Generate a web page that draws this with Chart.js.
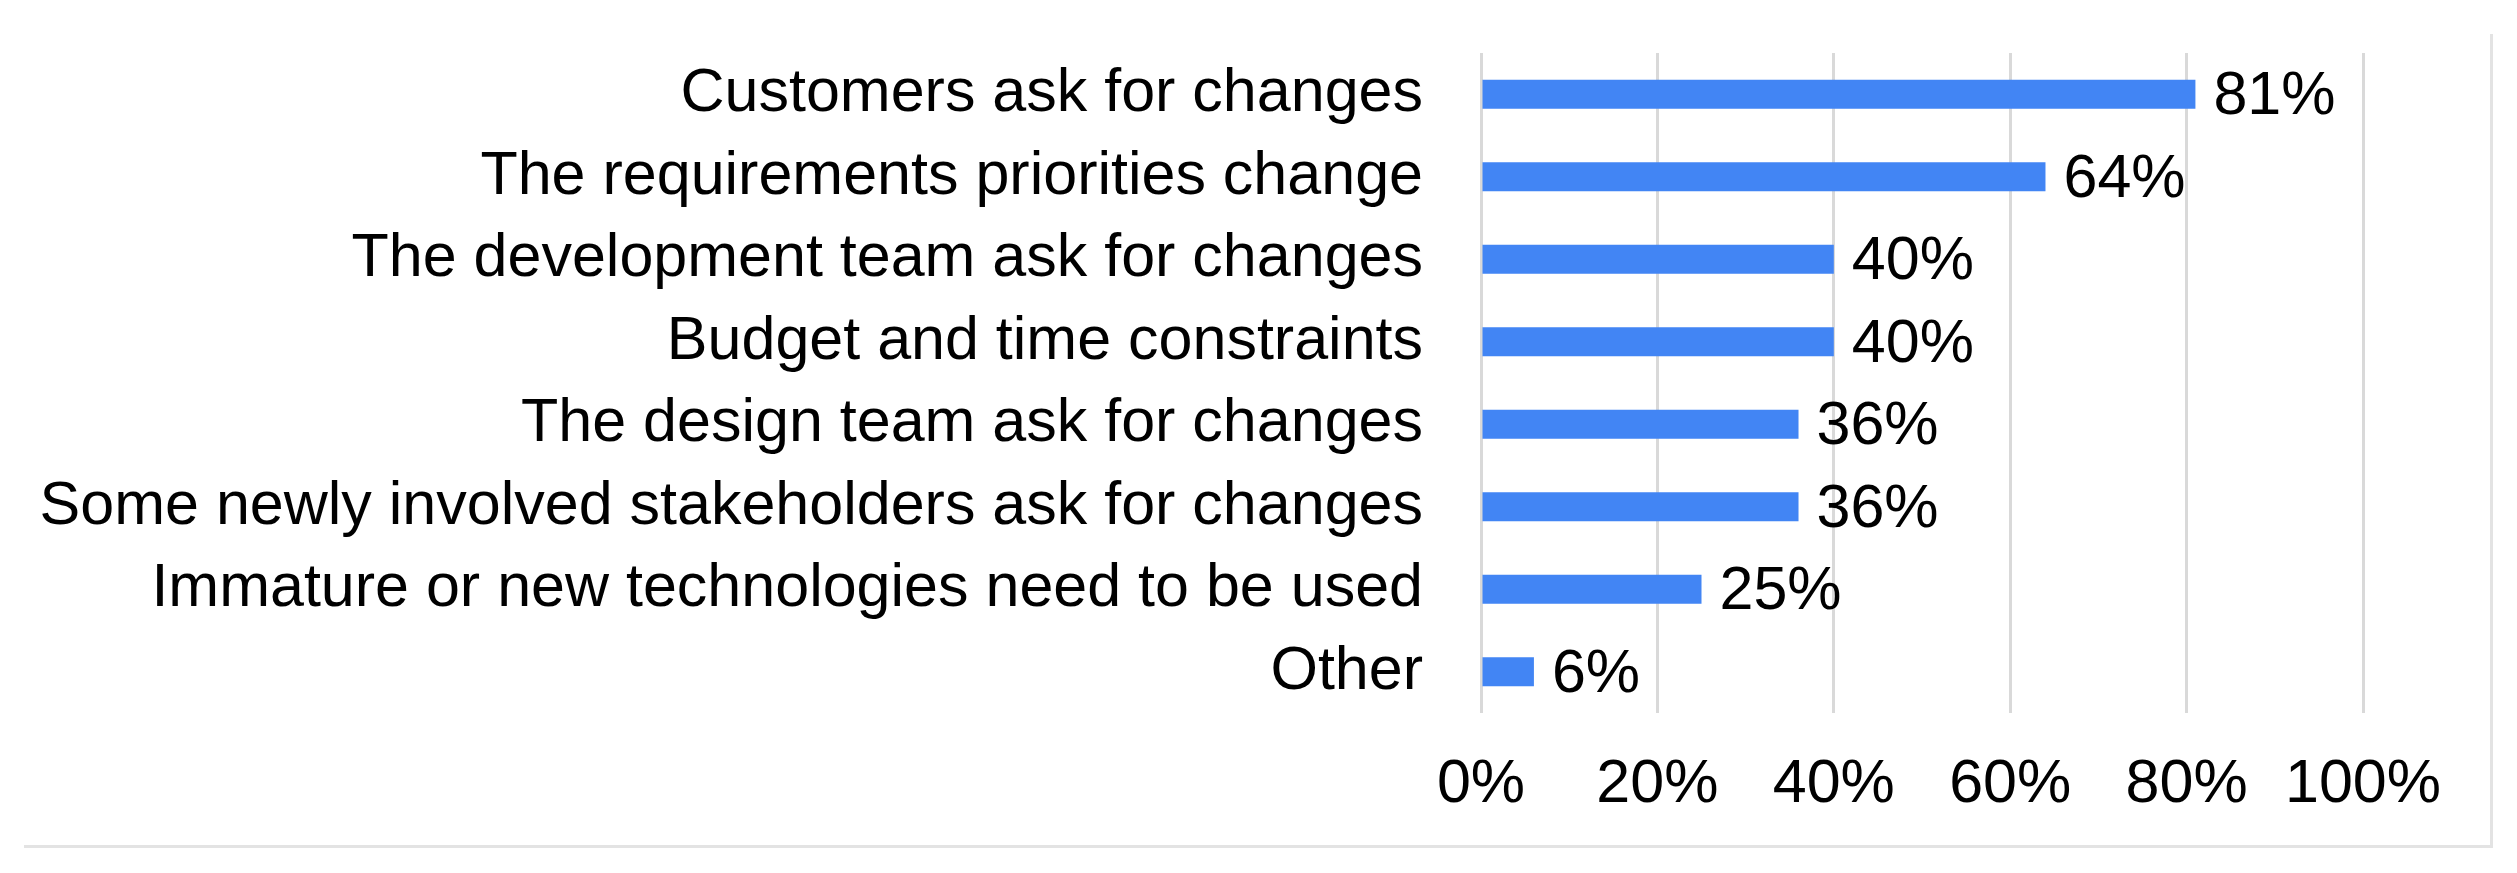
<!DOCTYPE html>
<html>
<head>
<meta charset="utf-8">
<script src="https://cdn.jsdelivr.net/npm/chart.js@4.4.1/dist/chart.umd.min.js"></script>
<style>
  body { margin: 0; background: #fff; }
  #wrap { position: relative; width: 2517px; height: 873px; }
  #frame {
    position: absolute; left: 24px; top: 34px; width: 2466px; height: 811px;
    border-right: 3px solid #e3e3e3; border-bottom: 3px solid #e3e3e3;
  }
  canvas { position: absolute; left: 0; top: 0; }
</style>
</head>
<body>
<div id="wrap">
  <div id="frame"></div>
  <canvas id="chart" width="2517" height="873"></canvas>
</div>
<script>
// Reasons for requirement changes (share of respondents, %)
const reasons = [
    'Customers ask for changes',
    'The requirements priorities change',
    'The development team ask for changes',
    'Budget and time constraints',
    'The design team ask for changes',
    'Some newly involved stakeholders ask for changes',
    'Immature or new technologies need to be used',
    'Other'
];
const shares = [81, 64, 40, 40, 36, 36, 25, 6];
const xTicks = [0, 20, 40, 60, 80, 100];

const fontFamily = '"Liberation Sans", Arial, sans-serif';

// Draws the "81%" style labels just past the end of each bar
const valueLabels = {
    id: 'valueLabels',
    afterDatasetsDraw(chart) {
        const ctx = chart.ctx;
        const meta = chart.getDatasetMeta(0);
        ctx.save();
        ctx.font = '61px ' + fontFamily;
        ctx.fillStyle = '#000';
        ctx.textAlign = 'left';
        ctx.textBaseline = 'middle';
        meta.data.forEach((bar, i) => {
            ctx.fillText(shares[i] + '%', bar.x + 18, bar.y + 3);
        });
        ctx.restore();
    }
};

const ctx = document.getElementById('chart').getContext('2d');
const chart = new Chart(ctx, {
    type: 'bar',
    data: {
        labels: reasons,
        datasets: [{
            data: shares,
            backgroundColor: '#4285f4',
            borderWidth: 0,
            categoryPercentage: 1,
            barPercentage: 0.35
        }]
    },
    options: {
        indexAxis: 'y',
        responsive: false,
        animation: false,
        layout: { padding: { top: 53, right: 154, bottom: 0, left: 0 } },
        plugins: {
            legend: { display: false },
            tooltip: { enabled: false }
        },
        scales: {
            x: {
                min: 0,
                max: 100,
                afterBuildTicks: (scale) => { scale.ticks = xTicks.map(v => ({ value: v })); },
                afterFit: (scale) => {
                    scale.height = 160;
                    scale.paddingLeft = 0;
                    scale.paddingRight = 0;
                },
                grid: { color: '#d9d9d9', lineWidth: 3, drawTicks: false },
                border: { display: false },
                ticks: {
                    padding: 36,
                    color: '#000',
                    font: { size: 61, family: fontFamily },
                    callback: (v) => v + '%'
                }
            },
            y: {
                afterFit: (scale) => {
                    scale.width = 1481;
                    scale.paddingTop = 0;
                    scale.paddingBottom = 0;
                },
                grid: { display: false },
                border: { display: false },
                ticks: {
                    padding: 50,
                    color: '#000',
                    font: { size: 61, family: fontFamily }
                }
            }
        }
    },
    plugins: [valueLabels]
});
</script>
</body>
</html>
